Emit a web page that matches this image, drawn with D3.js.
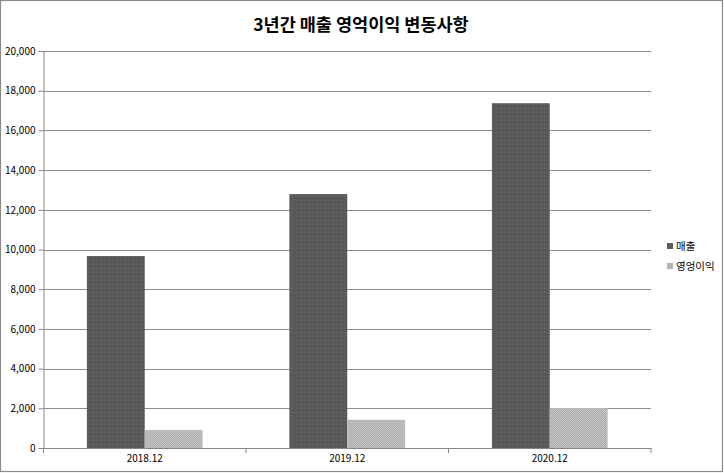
<!DOCTYPE html>
<html><head><meta charset="utf-8">
<script src="https://cdn.jsdelivr.net/npm/d3@7"></script>
<style>
html,body{margin:0;padding:0;background:#fff;}
svg{display:block;font-family:"Noto Sans CJK KR","Noto Sans",sans-serif;}
</style></head>
<body>
<svg id="chart" width="724" height="473"></svg>
<script>
const title = "3년간 매출 영억이익 변동사항";
const categories = ["2018.12", "2019.12", "2020.12"];
const seriesNames = ["매출", "영엉이익"];
const sales = [9670, 12790, 17370];
const operatingProfit = [910, 1420, 2010];
const yTicks = [0, 2000, 4000, 6000, 8000, 10000, 12000, 14000, 16000, 18000, 20000];

const seriesValues = [sales, operatingProfit];
const colors = ["#5b5b5b", "#b3b3b3"];

const svg = d3.select("#chart");
const W = 724, H = 473;
const m = {left: 43.5, right: 73, top: 51, bottom: 25};
const y0 = 448;

const defs = svg.append("defs");
const p1 = defs.append("pattern").attr("id","pat0").attr("patternUnits","userSpaceOnUse").attr("width",4).attr("height",4);
p1.append("rect").attr("width",4).attr("height",4).attr("fill","#595959");
p1.append("rect").attr("x",0).attr("y",0).attr("width",1).attr("height",1).attr("fill","#6a6a6a");
p1.append("rect").attr("x",2).attr("y",2).attr("width",1).attr("height",1).attr("fill","#4e4e4e");
const p2 = defs.append("pattern").attr("id","pat1").attr("patternUnits","userSpaceOnUse").attr("width",2).attr("height",2);
p2.append("rect").attr("width",2).attr("height",2).attr("fill","#b0b0b0");
p2.append("rect").attr("x",0).attr("y",0).attr("width",1).attr("height",1).attr("fill","#c2c2c2");
p2.append("rect").attr("x",1).attr("y",1).attr("width",1).attr("height",1).attr("fill","#c2c2c2");

svg.append("rect").attr("x",0.5).attr("y",0.5).attr("width",W-2).attr("height",H-2)
  .attr("fill","#fff").attr("stroke","#8a8a8a").attr("stroke-width",1.2);

const x0 = d3.scaleBand().domain(categories).range([m.left, 651]).padding(0);
const x1 = d3.scaleBand().domain(seriesNames).range([0, x0.bandwidth()]).paddingInner(0).paddingOuter(0.75);
const y = d3.scaleLinear().domain([0, 20000]).range([y0, m.top]);

svg.append("g").selectAll("line").data(yTicks.filter(d=>d>0)).join("line")
  .attr("x1", m.left).attr("x2", 651)
  .attr("y1", d=>Math.round(y(d))+0.5).attr("y2", d=>Math.round(y(d))+0.5)
  .attr("stroke","#8c8c8c").attr("stroke-width",1);

const g = svg.append("g");
categories.forEach((c, ci) => {
  seriesNames.forEach((s, si) => {
    const v = seriesValues[si][ci];
    g.append("rect")
      .attr("x", x0(c) + x1(s))
      .attr("y", y(v))
      .attr("width", x1.bandwidth())
      .attr("height", y0 - y(v))
      .attr("fill", `url(#pat${si})`);
  });
});

const yAxis = d3.axisLeft(y).tickValues(yTicks).tickSize(5).tickPadding(3)
  .tickFormat(d3.format(","));
const ya = svg.append("g").attr("transform", `translate(${m.left},0)`).call(yAxis);
ya.select(".domain").attr("stroke","#868686");
ya.selectAll(".tick line").attr("stroke","#868686");
ya.selectAll(".tick text").attr("fill","#000").style("font-size","10px")
  .style("font-family","'Noto Sans CJK KR','Noto Sans',sans-serif");

const xAxis = d3.axisBottom(x0).tickSize(0).tickPadding(7);
const xa = svg.append("g").attr("transform", `translate(0,${y0})`).call(xAxis);
xa.select(".domain").attr("stroke","#868686");
xa.selectAll(".tick text").attr("fill","#000").style("font-size","10px")
  .style("font-family","'Noto Sans CJK KR','Noto Sans',sans-serif");
const bounds = categories.map(c => x0(c)).concat([x0(categories[categories.length-1]) + x0.bandwidth()]);
xa.selectAll("line.bound").data(bounds).join("line").attr("class","bound")
  .attr("x1", d=>d).attr("x2", d=>d).attr("y1",0).attr("y2",5)
  .attr("stroke","#868686");

svg.append("text").attr("x", 361).attr("y", 31).attr("text-anchor","middle")
  .style("font-size","17.5px").style("font-weight","bold").attr("fill","#000").text(title);

const lg = svg.append("g");
seriesNames.forEach((s, i) => {
  const ly = 246 + i * 20;
  lg.append("rect").attr("x", 667).attr("y", ly - 3).attr("width", 6).attr("height", 6).attr("fill", colors[i]);
  lg.append("text").attr("x", 676).attr("y", ly).attr("dy","0.35em")
    .style("font-size","10.5px").attr("fill","#000").text(s);
});
</script>
</body></html>
